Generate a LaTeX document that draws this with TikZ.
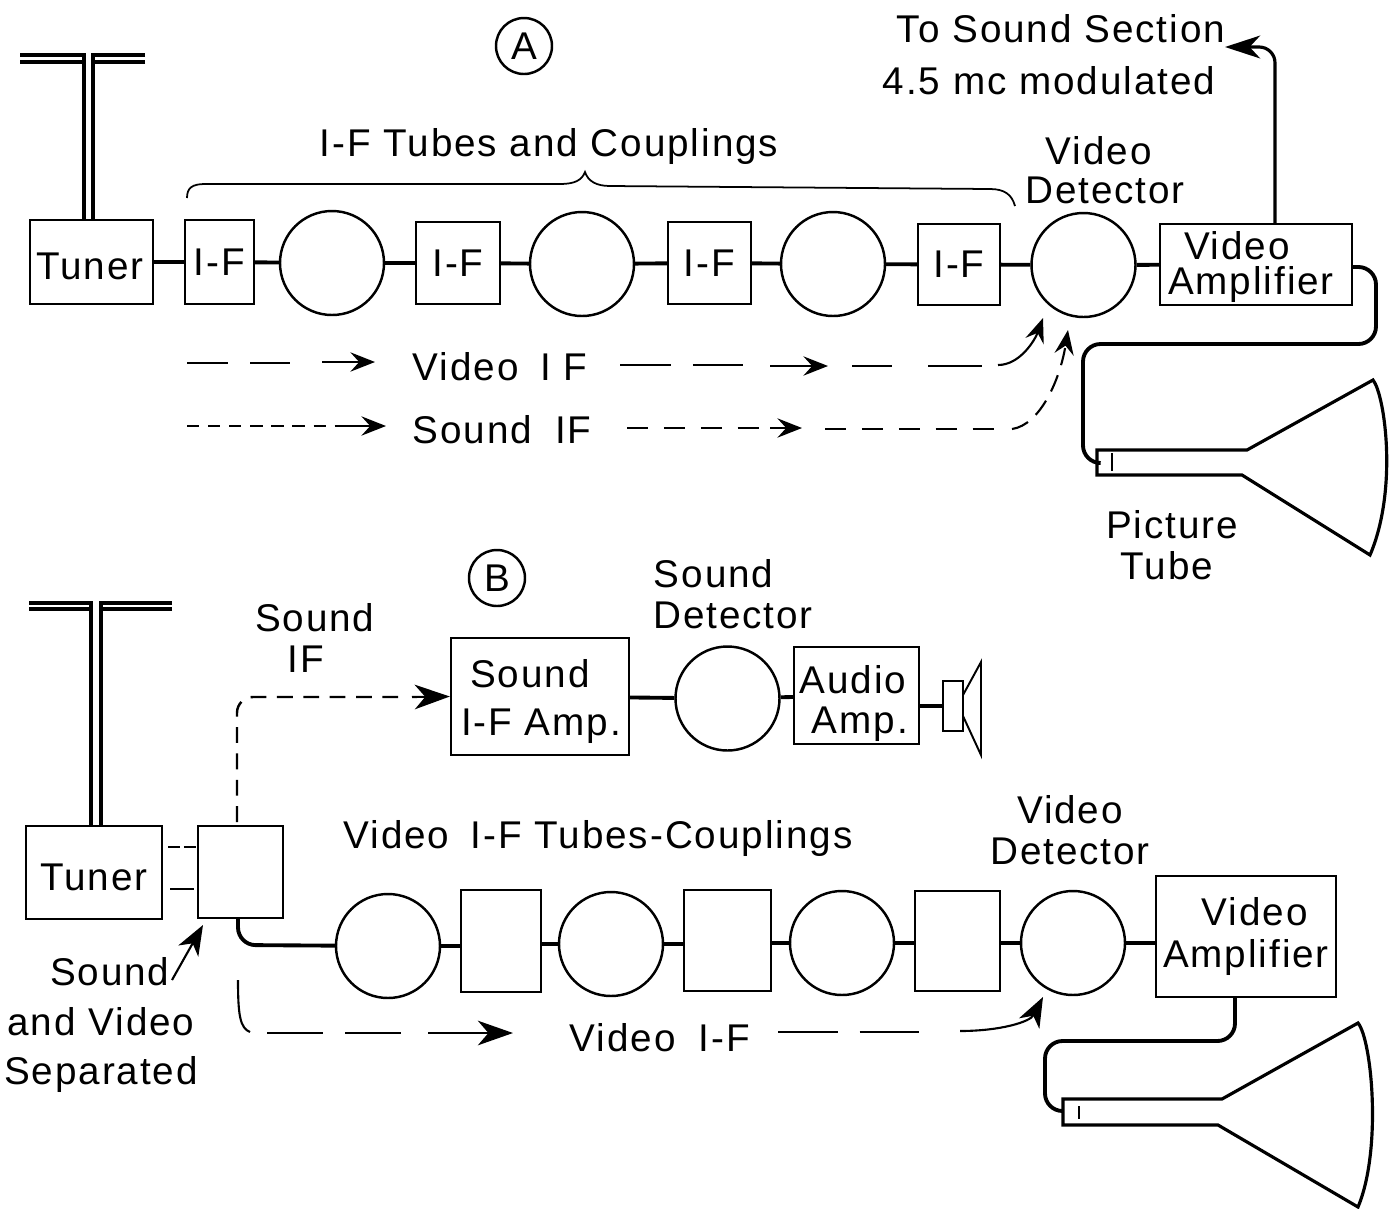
\documentclass[tikz,border=0pt]{standalone}
\usepackage{fontspec}
\setmainfont[LetterSpace=5]{Liberation Sans}
\usetikzlibrary{arrows.meta}
\newcommand{\pxu}{0.02cm}
\tikzset{
  lbl/.style={inner sep=0pt, align=center, font=\fontsize{22}{20}\selectfont},
  blk/.style 2 args={draw, line width=1.3pt, inner sep=0pt, align=center,
    font=\fontsize{22}{20}\selectfont, minimum width=#1*\pxu, minimum height=#2*\pxu},
  tube/.style={draw, circle, line width=1.4pt, inner sep=0pt, minimum size=104*\pxu},
  wire/.style={line width=2.2pt},
  thin wire/.style={line width=1.8pt},
  vidif/.style={line width=1.2pt, dash pattern=on #1pt off 12.5pt},
  sndif/.style={line width=1.2pt, dash pattern=on 7pt off 5pt},
  flow/.style={line width=1.2pt, -{Stealth[length=14pt, width=11pt, inset=5pt]}},
  bigflow/.style={line width=1.2pt, -{Stealth[length=20pt, width=14pt, inset=6pt]}},
  tagc/.style={draw, circle, line width=1.4pt, inner sep=0pt, minimum size=56*\pxu,
    font=\fontsize{22}{20}\selectfont}
}
\begin{document}
\begin{tikzpicture}[x=0.02cm, y=-0.02cm]
  \useasboundingbox (0,0) rectangle (1394,1208);

  % Part A
  \node[tagc] (tagA) at (524,46) {A};
  \node[lbl] (toSound) at (1061,29) {To Sound Section};
  \node[lbl] (fourFive) at (1049,81) {4.5 mc modulated};
  \node[lbl] (ifTubes) at (549,146) {I-F Tubes and Couplings};
  \node[lbl] (detALbl) at (1105,170) {Video\hspace*{7pt}\\[2pt]Detector};
  \node[lbl] (vidALbl) at (500,367) {Video\hspace{5pt} I F};
  \node[lbl] (sndALbl) at (502,430) {Sound\hspace{6pt} IF};
  \node[lbl] (picLbl) at (1172,545) {Picture\\[3pt]Tube\hspace*{6pt}};

  \node[blk={123}{84}] (tunA) at (91.5,262) {};
  \node[lbl] (tunALbl) at (90,266) {Tuner};
  \node[blk={69}{84}] (ifA1) at (219.5,262) {I-F};
  \node[tube] (tubA1) at (332,263) {};
  \node[blk={84}{82}] (ifA2) at (458,263) {I-F};
  \node[tube] (tubA2) at (582,264) {};
  \node[blk={83}{82}] (ifA3) at (709.5,263) {I-F};
  \node[tube] (tubA3) at (833,264) {};
  \node[blk={82}{81}] (ifA4) at (959,264.5) {I-F};
  \node[tube] (detA) at (1083.5,265) {};
  \node[blk={192}{81}] (ampA) at (1256,264.5) {};
  \node[lbl] (ampALbl) at (1251,267) {Video\hspace*{16pt}\\Amplifier};

  \draw[wire] (tunA) -- (ifA1);
  \draw[wire] (ifA1) -- (tubA1);
  \draw[wire] (tubA1) -- (ifA2);
  \draw[wire] (ifA2) -- (tubA2);
  \draw[wire] (tubA2) -- (ifA3);
  \draw[wire] (ifA3) -- (tubA3);
  \draw[wire] (tubA3) -- (ifA4);
  \draw[wire] (ifA4) -- (detA);
  \draw[wire] (detA) -- (ampA);

  % Antenna A
  \draw[thin wire] (20,55) -- (84,55) -- (84,220);
  \draw[thin wire] (20,62) -- (84,62);
  \draw[thin wire] (145,55) -- (93,55) -- (93,220);
  \draw[thin wire] (145,62) -- (93,62);

  % Bracket
  \draw[line width=1pt] (187,198) .. controls (187,188) and (192,184) .. (205,184)
    -- (560,184) .. controls (575,184) and (582,180) .. (585,172)
    .. controls (588,181) and (596,186) .. (610,186)
    -- (990,189) .. controls (1005,189) and (1012,195) .. (1015,206);

  % Picture tube A
  \coordinate (gunA) at (1097,463);
  \draw[line width=1.8pt] (1097,450) -- (1247,450) -- (1373,380)
    .. controls (1385,395) and (1398,490) .. (1370,555)
    -- (1242,475) -- (1097,475) -- cycle;
  \draw[line width=1pt] (1112,453) -- (1112,471);

  \coordinate (outA) at (1275,47);
  \draw[thin wire, rounded corners=9pt, -{Stealth[length=20pt, width=13pt, inset=6pt]}]
    (ampA.north -| outA) -- (outA) -- (1225,47);
  \draw[wire, rounded corners=10pt] (1352,267) -- (1376,267) -- (1376,344)
    -- (1083,344) -- (1083,463) -- (gunA);

  % Video and sound rows
  \coordinate (vidTipA) at (1043,318);
  \coordinate (sndTipA) at (1068,330);
  \draw[vidif=23.5] (187,363) -- (290,363);
  \draw[flow] (322,362) -- (375,362);
  \draw[vidif=29] (620,365) -- (743,365);
  \draw[flow] (770,366) -- (828,366);
  \draw[line width=1.2pt] (852,366) -- (892,366);
  \draw[line width=1.2pt] (928,366) -- (982,366);
  \draw[flow] (998,365) .. controls (1020,365) and (1035,340) .. (vidTipA);
  \draw[sndif] (187,426) -- (345,426);
  \draw[flow] (345,426) -- (386,426);
  \draw[line width=1.2pt, dash pattern=on 12pt off 9pt] (627,428) -- (770,428);
  \draw[flow] (770,428) -- (802,428);
  \draw[line width=1.2pt, dash pattern=on 12pt off 9pt] (825,429) -- (1003,429);
  \draw[line width=1.2pt, dash pattern=on 10pt off 6pt, -{Stealth[length=14pt, width=11pt, inset=5pt]}]
    (1012,429) .. controls (1040,425) and (1060,380) .. (sndTipA);

  % Part B
  \node[tagc] (tagB) at (497,578) {B};
  \node[lbl] (detSLbl) at (733,594) {Sound\hspace*{22pt}\\[3pt]Detector};
  \node[lbl] (sndBLbl) at (306,638) {\hspace*{10pt}Sound\\[3pt]IF};
  \node[lbl] (vifLbl) at (598,838) {Video\hspace{5pt} I-F Tubes-Couplings};
  \node[lbl] (detBLbl) at (1070,830) {Video\\[3pt]Detector};
  \node[lbl] (sepLbl) at (101,1025) {\hspace*{10pt}Sound\\[8pt]and Video\\[8pt]Separated};
  \node[lbl] (vidBLbl) at (660,1038) {Video\hspace{6pt} I-F};

  \node[blk={136}{93}] (tunB) at (94,872.5) {};
  \node[lbl] (tunBLbl) at (94,877) {Tuner};
  \node[blk={85}{92}] (sep) at (240.5,872) {};
  \node[blk={178}{117}] (ifS) at (540,696.5) {};
  \node[lbl] (ifSLbl1) at (530,674) {Sound};
  \node[lbl] (ifSLbl2) at (541,726) {I-F Amp.};
  \node[tube] (detS) at (727.5,698.5) {};
  \node[blk={125}{97}] (audio) at (856.5,695.5) {};
  \node[lbl] (audioLbl1) at (853,680) {Audio};
  \node[lbl] (audioLbl2) at (860,724) {Amp.};
  \node[draw, line width=1.3pt, minimum width=20*\pxu, minimum height=50*\pxu, inner sep=0pt] (spk) at (953,706) {};
  \node[tube] (tubB1) at (388,946) {};
  \node[blk={80}{102}] (ifB1) at (501,941) {};
  \node[tube] (tubB2) at (611,944) {};
  \node[blk={87}{101}] (ifB2) at (727.5,940.5) {};
  \node[tube] (tubB3) at (842,943) {};
  \node[blk={85}{100}] (ifB3) at (957.5,941) {};
  \node[tube] (detB) at (1073,943) {};
  \node[blk={180}{121}] (ampB) at (1246,936.5) {\hspace*{10pt}Video\\[4pt]Amplifier};

  \draw[wire] (ifS) -- (detS);
  \draw[wire] (detS) -- (audio);
  \draw[wire] (audio.east |- spk) -- (spk);
  \draw[wire] (tubB1) -- (ifB1.west |- tubB1);
  \draw[wire] (ifB1.east |- tubB2) -- (tubB2);
  \draw[wire] (tubB2) -- (ifB2.west |- tubB2);
  \draw[wire] (ifB2.east |- tubB3) -- (tubB3);
  \draw[wire] (tubB3) -- (ifB3.west |- tubB3);
  \draw[wire] (ifB3.east |- detB) -- (detB);
  \draw[wire] (detB) -- (ampB.west |- detB);

  % Speaker cone
  \draw[line width=1.1pt] (963,695) -- (981,662) -- (981,755) -- (963,716);

  % Antenna B
  \draw[thin wire] (29,603) -- (91,603) -- (91,826);
  \draw[thin wire] (29,609) -- (91,609);
  \draw[thin wire] (172,603) -- (101,603) -- (101,826);
  \draw[thin wire] (172,609) -- (101,609);

  % Tuner to separator
  \draw[line width=1.2pt, dash pattern=on 7pt off 2pt] (168,847) -- (197,847);
  \draw[line width=1.3pt] (170,889) -- (194,889);

  % Sound IF path and video path
  \coordinate (turnS) at (237,697);
  \coordinate (turnV) at (238,945);
  \draw[line width=1.4pt, dash pattern=on 9pt off 6pt, rounded corners=9pt] (237,822) -- (turnS) -- (405,697);
  \draw[bigflow] (412,697) -- (ifS.west);
  \draw[wire, rounded corners=10pt] (238,918) -- (turnV) -- (tubB1);
  \draw[line width=1.2pt, -{Stealth[length=17pt, width=13pt, inset=5pt]}] (172,980) -- (203,925);

  % Video IF row B
  \draw[line width=1.2pt] (238,980) .. controls (238,1015) and (240,1028) .. (250,1032);
  \draw[vidif=32] (267,1033) -- (402,1033);
  \draw[bigflow] (428,1033) -- (513,1033);
  \draw[vidif=34] (778,1032) -- (922,1032);
  \draw[line width=1.2pt, -{Stealth[length=17pt, width=13pt, inset=5pt]}]
    (960,1031) .. controls (1000,1031) and (1030,1022) .. (1043,997);

  % Picture tube B
  \coordinate (gunB) at (1063,1111);
  \draw[line width=1.8pt] (1063,1099) -- (1222,1099) -- (1358,1023)
    .. controls (1372,1040) and (1382,1150) .. (1358,1207)
    -- (1218,1125) -- (1063,1125) -- cycle;
  \draw[line width=1pt] (1079,1106) -- (1079,1119);
  \draw[wire, rounded corners=10pt] (ampB.south -| 1235,0) -- (1235,1041) -- (1045,1041)
    -- (1045,1111) -- (gunB);
\end{tikzpicture}
\end{document}
